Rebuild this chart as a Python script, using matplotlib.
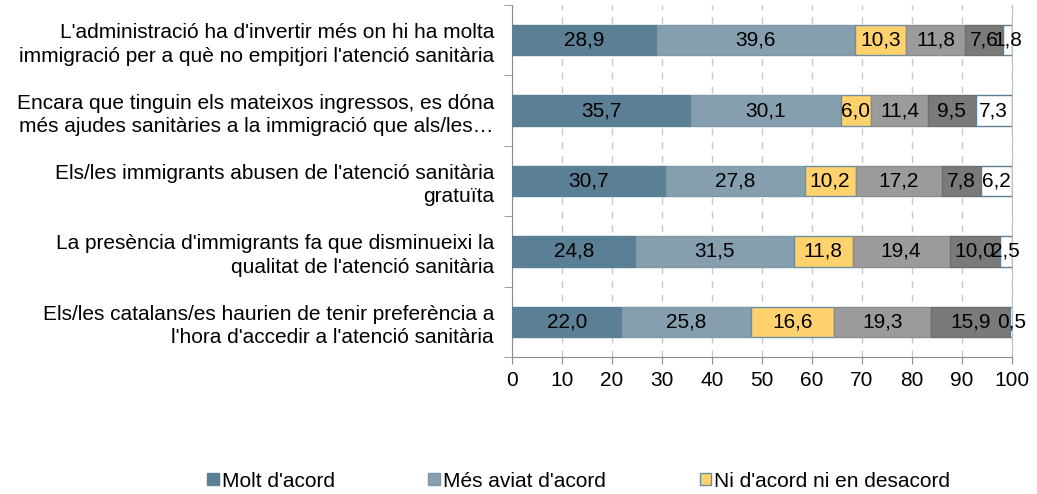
import matplotlib
matplotlib.use("Agg")
import matplotlib.pyplot as plt
import numpy as np

plt.rcParams['font.family'] = ['Liberation Sans', 'DejaVu Sans']

categories = [
    "L'administració ha d'invertir més on hi ha molta\nimmigració per a què no empitjori l'atenció sanitària",
    "Encara que tinguin els mateixos ingressos, es dóna\nmés ajudes sanitàries a la immigració que als/les…",
    "Els/les immigrants abusen de l'atenció sanitària\ngratuïta",
    "La presència d'immigrants fa que disminueixi la\nqualitat de l'atenció sanitària",
    "Els/les catalans/es haurien de tenir preferència a\nl'hora d'accedir a l'atenció sanitària",
]
series_names = ["Molt d'acord", "Més aviat d'acord", "Ni d'acord ni en desacord",
                "Més aviat en desacord", "Molt en desacord", "NS/NC"]
values = [
    [28.9, 35.7, 30.7, 24.8, 22.0],
    [39.6, 30.1, 27.8, 31.5, 25.8],
    [10.3, 6.0, 10.2, 11.8, 16.6],
    [11.8, 11.4, 17.2, 19.4, 19.3],
    [7.6, 9.5, 7.8, 10.0, 15.9],
    [1.8, 7.3, 6.2, 2.5, 0.5],
]
colors = ["#5b7f94", "#869fae", "#ffd26e", "#9b9b9b", "#7a7a7a", "#ffffff"]
edges = ["#5b7f94", "#7f98a8", "#6b8ea3", "#8c8c8c", "#6e6e6e", "#5b7f94"]
xticks = list(range(0, 101, 10))

FS = 15

fig = plt.figure(figsize=(10.37, 4.94), dpi=100)
ax = fig.add_axes([512/1037, 1-357/494, 500/1037, 352/494])

n = len(categories)
y = np.arange(n)[::-1]
left = np.zeros(n)
handles = []
for i, (name, vals) in enumerate(zip(series_names, values)):
    vals = np.array(vals)
    b = ax.barh(y, vals, left=left, height=0.43, color=colors[i],
                edgecolor=edges[i], linewidth=1.0, label=name, zorder=3)
    handles.append(b)
    for yy, l, v in zip(y, left, vals):
        ax.text(l + v/2, yy, f"{v:.1f}".replace('.', ','), ha='center', va='center',
                fontsize=FS, color='black', zorder=5)
    left += vals

ax.set_xlim(0, 100)
ax.set_ylim(-0.5, n - 0.5)
ax.set_xticks(xticks)
ax.set_xticklabels([str(t) for t in xticks], fontsize=FS)
ax.set_yticks(y)
ax.set_yticklabels(categories, fontsize=FS, ha='right', linespacing=1.3)
ax.tick_params(axis='y', length=0, pad=13)
ax.set_yticks(np.arange(-0.5, n, 1.0), minor=True)
ax.tick_params(axis='y', which='minor', length=6, color='#8c8c8c', direction='out')
ax.tick_params(axis='x', length=5, color='#8c8c8c', direction='out', pad=5)
ax.grid(axis='x', linestyle=(0, (5, 5)), color='#c8c8c8', linewidth=1.0, zorder=0)
ax.spines['top'].set_visible(False)
ax.spines['right'].set_color('#bfbfbf')
ax.spines['left'].set_color('#8c8c8c')
ax.spines['bottom'].set_color('#8c8c8c')

leg = fig.legend(handles[:3], series_names[:3], loc='center', bbox_to_anchor=(0.558, 1-481/494),
                 ncol=3, frameon=False, fontsize=FS, handlelength=0.55, handleheight=0.55,
                 handletextpad=0.15, columnspacing=4.5)

fig.savefig("out.png", dpi=100)
